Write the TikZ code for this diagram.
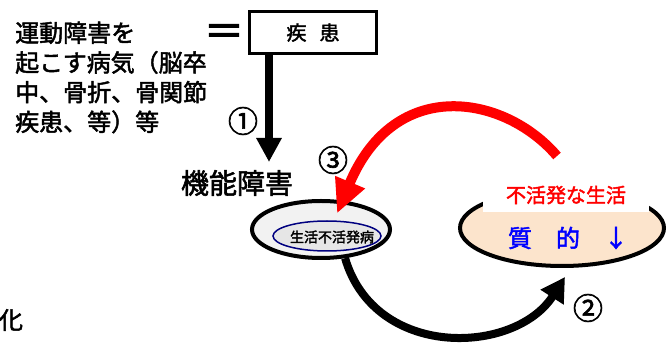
\documentclass[tikz,border=0pt]{standalone}
\usepackage{fontspec}
\setmainfont{Noto Sans CJK JP}
\usepackage{tikz}
\usetikzlibrary{shapes.geometric, arrows.meta, positioning, calc}
\definecolor{shellcolor}{RGB}{242,242,242}
\definecolor{corecolor}{RGB}{230,230,230}
\definecolor{navyline}{RGB}{0,0,128}
\definecolor{qolcolor}{RGB}{252,228,204}

\begin{document}
\begin{tikzpicture}[
    x=1pt, y=-1pt,
    jp/.style={inner sep=0pt, font=\fontsize{#1}{#1}\selectfont\addfontfeature{FakeBold=2}},
    oval/.style={ellipse, draw, line width=4pt, fill=#1},
    flow/.style={line width=#1}
]
    \useasboundingbox (0,0) rectangle (667,344);

    % Cause side
    \node[inner sep=0pt, align=left, anchor=west, font=\fontsize{24}{29.7}\selectfont\addfontfeature{FakeBold=2}] (cause) at (15,77.5) {運動障害を\\起こす病気（脳卒\\中、骨折、骨関節\\疾患、等）等};
    \node[jp=40] (equal) at (224,35) {\addfontfeature{FakeBold=3}＝};
    \node[draw, line width=3pt, minimum width=127pt, minimum height=42pt, jp=20] (disease) at (313,32.5) {疾\hspace{13pt}患};
    \node[jp=28] (impair) at (237,183) {機能障害};
    \node[jp=24] (tail) at (11,320) {化};

    % Ovals
    \node[oval=shellcolor, minimum width=138pt, minimum height=57pt] (leftell) at (321,229.5) {};
    \node[ellipse, draw=navyline, line width=1.5pt, fill=corecolor, minimum width=108pt, minimum height=30pt] (disuse) at (327,236) {};
    \node[jp=14] (disusetext) at (332,237) {生活不活発病};
    \node[oval=qolcolor, minimum width=204pt, minimum height=76pt] (rightell) at (562,228) {};
    \node[fill=white, minimum width=166pt, minimum height=34pt, text=red, jp=20] (inactive) at (566,195) {不活発な生活};
    \node[jp=24, text=blue] (quality) at (568,238) {質　的　↓};

    % Numbers
    \node[jp=30] (num1) at (243,121) {①};
    \node[jp=30] (num2) at (588,308) {②};
    \node[jp=30] (num3) at (333,160) {③};

    % Arrows
    \coordinate (impairtip) at (269,162);
    \coordinate (redstart) at (557,156);
    \draw[flow=8pt, -{Triangle[length=24pt,width=24pt]}] ([xshift=-44pt]disease.south) -- (impairtip);
    \draw[flow=8pt, -{Triangle[length=24pt,width=26pt]}] (leftell.-50) .. controls (375,360) and (515,355) .. ($(rightell.south)+(3,9)$);
    \draw[flow=10pt, red, -{Triangle[length=34pt,width=30pt]}] (redstart) .. controls (505,95) and (395,75) .. ($(leftell.center)+(16,-16)$);
\end{tikzpicture}
\end{document}
